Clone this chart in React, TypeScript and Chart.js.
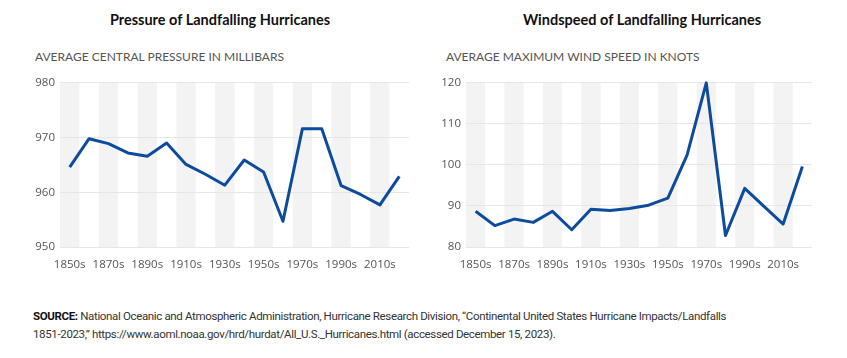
import React, { useEffect, useRef } from 'react';
import { Chart, registerables } from 'chart.js';

Chart.register(...registerables);

const decades = ['1850s', '1860s', '1870s', '1880s', '1890s', '1900s', '1910s', '1920s', '1930s', '1940s', '1950s', '1960s', '1970s', '1980s', '1990s', '2000s', '2010s', '2020s'];
const pressure = [964.6, 969.8, 968.9, 967.2, 966.6, 969.0, 965.1, 963.3, 961.3, 965.9, 963.7, 954.7, 971.6, 971.6, 961.2, 959.6, 957.7, 962.9];
const windSpeed = [88.7, 85.2, 86.8, 86.0, 88.7, 84.2, 89.2, 88.9, 89.4, 90.2, 91.9, 102.4, 120.0, 82.8, 94.3, 89.9, 85.6, 99.6];
const pressureRange = [950, 980];
const windRange = [80, 120];

const LINE_COLOR = '#0d4b9c';
const TICK_FONT = "'Open Sans', sans-serif";

const stripePlugin = {
  id: 'stripes',
  beforeDraw(chart: any) {
    const { ctx, chartArea, scales } = chart;
    const x = scales.x;
    const n = chart.data.labels.length;
    const w = (chartArea.right - chartArea.left) / n;
    ctx.save();
    ctx.fillStyle = '#f3f3f3';
    for (let i = 0; i < n; i += 2) {
      const cx = x.getPixelForValue(i);
      ctx.fillRect(cx - w / 2, chartArea.top, w, chartArea.bottom - chartArea.top);
    }
    ctx.restore();
  },
};

function LineChart({ values, range, left, width }: { values: number[]; range: number[]; left: number; width: number }) {
  const ref = useRef<HTMLCanvasElement>(null);
  useEffect(() => {
    if (!ref.current) return;
    const chart = new Chart(ref.current, {
      type: 'line',
      data: {
        labels: decades,
        datasets: [
          {
            data: values,
            borderColor: LINE_COLOR,
            borderWidth: 3,
            pointRadius: 0,
            tension: 0,
            fill: false,
            clip: false as any,
            borderJoinStyle: 'round',
          },
        ],
      },
      options: {
        responsive: false,
        animation: false,
        layout: { padding: { top: 4, right: 6, left: 0, bottom: 16 } },
        plugins: { legend: { display: false }, tooltip: { enabled: false }, title: { display: false } },
        scales: {
          x: {
            offset: true,
            grid: { display: false },
            border: { display: false },
            afterFit: (s: any) => { s.height = 22; },
            ticks: {
              autoSkip: false,
              maxRotation: 0,
              padding: 3,
              color: '#555',
              font: { family: TICK_FONT, size: 11.5 },
              callback: (v: any, i: number) => (i % 2 === 0 ? decades[i] : ''),
            },
          },
          y: {
            min: range[0],
            max: range[1],
            grid: { color: '#e6e6e6', lineWidth: 1, drawTicks: false },
            border: { display: false },
            afterFit: (s: any) => { s.width = 30; },
            ticks: {
              stepSize: 10,
              padding: 5,
              color: '#555',
              font: { family: TICK_FONT, size: 11.5 },
            },
          },
        },
      },
      plugins: [stripePlugin],
    });
    return () => chart.destroy();
  }, []);
  return (
    <canvas
      ref={ref}
      width={width}
      height={214}
      style={{ position: 'absolute', left, top: 71, width, height: 214 }}
    />
  );
}

const titleStyle: React.CSSProperties = {
  position: 'absolute',
  top: 11,
  fontFamily: "Lato, 'Open Sans', sans-serif",
  fontWeight: 700,
  fontSize: 14.5,
  color: '#111',
  whiteSpace: 'nowrap',
  transform: 'translateX(-50%)',
};

const subStyle: React.CSSProperties = {
  position: 'absolute',
  top: 49,
  fontFamily: "Lato, 'Open Sans', sans-serif",
  fontSize: 12,
  color: '#555',
  whiteSpace: 'nowrap',
};

export default function App() {
  return (
    <div style={{ position: 'absolute', left: 0, top: 0, width: 847, height: 358, background: '#fff', overflow: 'hidden' }}>
      <div style={{ ...titleStyle, left: 220 }}>Pressure of Landfalling Hurricanes</div>
      <div style={{ ...titleStyle, left: 642 }}>Windspeed of Landfalling Hurricanes</div>
      <div style={{ ...subStyle, left: 35 }}>AVERAGE CENTRAL PRESSURE IN MILLIBARS</div>
      <div style={{ ...subStyle, left: 446 }}>AVERAGE MAXIMUM WIND SPEED IN KNOTS</div>
      <LineChart values={pressure} range={pressureRange} left={30} width={385} />
      <LineChart values={windSpeed} range={windRange} left={436} width={382} />
      <div
        style={{
          position: 'absolute',
          left: 33,
          top: 307,
          fontFamily: "Roboto, sans-serif",
          fontSize: 11.5,
          letterSpacing: '-0.35px',
          lineHeight: '18px',
          color: '#333',
          whiteSpace: 'nowrap',
        }}
      >
        <b style={{ color: '#111' }}>SOURCE:</b> National Oceanic and Atmospheric Administration, Hurricane Research Division, “Continental United States Hurricane Impacts/Landfalls
        <br />
        1851-2023,” https://www.aoml.noaa.gov/hrd/hurdat/All_U.S._Hurricanes.html (accessed December 15, 2023).
      </div>
    </div>
  );
}
